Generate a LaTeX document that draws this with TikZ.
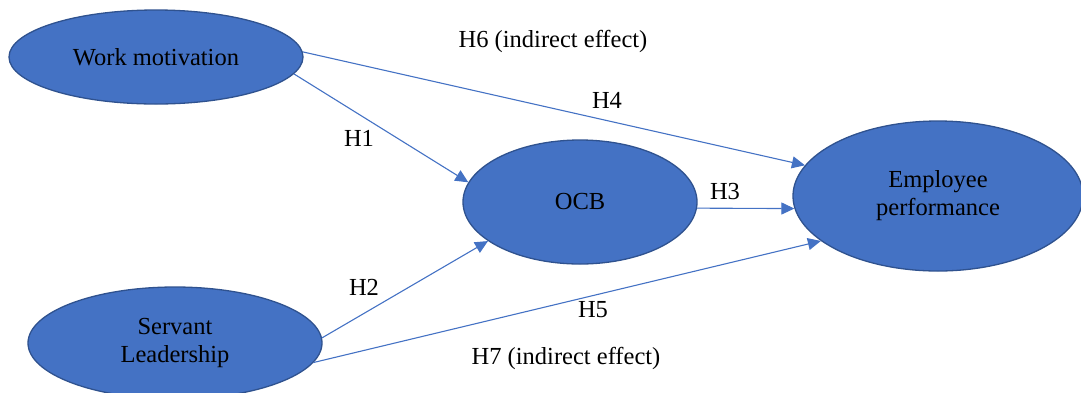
\documentclass[tikz,border=0pt]{standalone}
\usepackage{fontspec}
\setmainfont{Liberation Serif}
\usetikzlibrary{arrows.meta,shapes.geometric}
\definecolor{ellfill}{HTML}{4472C4}
\definecolor{elldraw}{HTML}{2F528F}
\definecolor{pathblue}{HTML}{4472C4}

\begin{document}
\begin{tikzpicture}[
        x=1pt,y=-1pt,
        >={Triangle[length=13pt,width=12pt]},
        latent/.style={ellipse,draw=elldraw,fill=ellfill,line width=1.3pt,inner sep=0pt,align=center,font=\fontsize{24.5}{28}\selectfont},
        hyp/.style={inner sep=0pt,font=\fontsize{24.5}{28}\selectfont},
        every edge/.style={draw=pathblue,line width=1.1pt},
    ]
    \useasboundingbox (0,0) rectangle (1081,392);
    \node[latent,minimum width=294pt,minimum height=94pt] (wm) at (156,57) {Work motivation};
    \node[latent,minimum width=234pt,minimum height=124pt] (ocb) at (580,202) {OCB};
    \node[latent,minimum width=290pt,minimum height=150pt] (ep) at (938,196) {Employee\\performance};
    \node[latent,minimum width=294pt,minimum height=112pt] (sl) at (175,343) {Servant\\Leadership};
    % paths
    \path (wm.-7) edge [->] (ocb.170)
          (wm.2) edge [->] (ep.167)
          (ocb.-3) edge [->] (ep.185)
          (sl.2) edge [->] (ocb.203)
          (sl.-8) edge [->] (ep.201);
    % hypotheses
    \node[hyp] (h6) at (553,41) {H6 (indirect effect)};
    \node[hyp] (h4) at (607,100) {H4};
    \node[hyp] (h1) at (359,138) {H1};
    \node[hyp] (h3) at (725,192) {H3};
    \node[hyp] (h2) at (364,287) {H2};
    \node[hyp] (h5) at (593,310) {H5};
    \node[hyp] (h7) at (566,358) {H7 (indirect effect)};
\end{tikzpicture}
\end{document}
